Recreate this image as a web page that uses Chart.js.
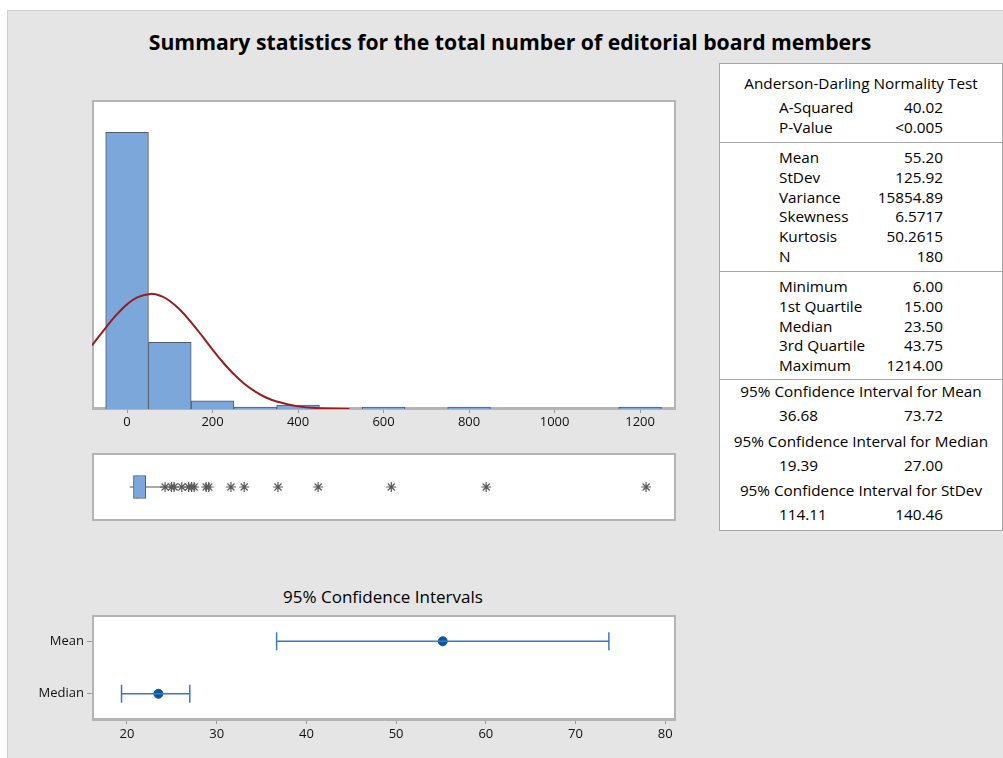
<!DOCTYPE html>
<html>
<head>
<meta charset="utf-8">
<script src="https://cdn.jsdelivr.net/npm/chart.js@4.4.0/dist/chart.umd.min.js"></script>
<style>
  body { margin: 0; background: #fff; font-family: "Open Sans", sans-serif; color: #000; }
  #page { position: absolute; left: 7px; top: 10px; width: 996px; height: 748px; background: #e5e5e5; border-left: 1px solid #cfcfcf; border-top: 1px solid #cfcfcf; }
  canvas { position: absolute; }
  .t { position: absolute; white-space: nowrap; line-height: 20px; }
  #title { font-weight: bold; font-size: 21.2px; left: 0; width: 1020px; text-align: center; top: 27px; line-height: 30px; }
  #ciTitle { font-size: 17px; left: 233px; width: 300px; text-align: center; top: 587px; }
  #stats { position: absolute; left: 719px; top: 63px; width: 282px; height: 466px; background: #fff; border: 1px solid #a6a6a6; }
  .sep { position: absolute; left: 719px; width: 284px; height: 1px; background: #a6a6a6; }
</style>
</head>
<body>
<div id="page"></div>
<div class="t" id="title">Summary statistics for the total number of editorial board members</div>
<canvas id="hist" width="584" height="335" style="left:92px;top:100px"></canvas>
<canvas id="box" width="584" height="68" style="left:92px;top:453px"></canvas>
<div class="t" id="ciTitle">95% Confidence Intervals</div>
<canvas id="ci" width="656" height="132" style="left:20px;top:615px"></canvas>
<div id="stats"></div>
<div id="statText"></div>

<script>
// histogram data (bin width 100)
const binCenters = [0, 100, 200, 300, 400, 500, 600, 700, 800, 900, 1000, 1100, 1200];
const binCounts = [137, 33, 4, 1, 2, 0, 1, 0, 1, 0, 0, 0, 1];
const histTicks = [0, 200, 400, 600, 800, 1000, 1200];

// fitted normal curve
const curveX = [-82, -50, -25, 0, 25, 55, 80, 100, 125, 150, 175, 200, 225, 250, 275, 300, 325, 350, 400, 450, 520];
const curveY = [31.5, 40.2, 46.6, 51.8, 55.4, 57.0, 55.9, 53.5, 48.9, 42.9, 36.3, 29.4, 22.9, 17.2, 12.4, 8.6, 5.7, 3.7, 1.3, 0.4, 0.05];

// boxplot
const boxMin = 6, boxQ1 = 15, boxMedian = 23.5, boxQ3 = 43.75, whiskerHigh = 85;
const outliers = [89, 104, 110, 128, 144, 151, 157, 185, 191, 243, 274, 353, 447, 618, 840, 1214];

// confidence intervals
const ciLabels = ["Mean", "Median"];
const ciEstimate = [55.20, 23.50];
const ciLow = [36.68, 19.39];
const ciHigh = [73.72, 27.00];
const ciTicks = [20, 30, 40, 50, 60, 70, 80];

// stats table
const adLabels = ["A-Squared", "P-Value"];
const adValues = ["40.02", "<0.005"];
const momentLabels = ["Mean", "StDev", "Variance", "Skewness", "Kurtosis", "N"];
const momentValues = ["55.20", "125.92", "15854.89", "6.5717", "50.2615", "180"];
const quantLabels = ["Minimum", "1st Quartile", "Median", "3rd Quartile", "Maximum"];
const quantValues = ["6.00", "15.00", "23.50", "43.75", "1214.00"];
const intervalTitles = ["95% Confidence Interval for Mean", "95% Confidence Interval for Median", "95% Confidence Interval for StDev"];
const intervalLow = ["36.68", "19.39", "114.11"];
const intervalHigh = ["73.72", "27.00", "140.46"];

Chart.defaults.font.family = '"Open Sans", sans-serif';
Chart.defaults.font.size = 13;
Chart.defaults.color = "#111";
Chart.defaults.animation = false;

// white plot panel with grey frame, drawn under the marks
const panel = {
  id: "panel",
  beforeDraw(chart) {
    const a = chart.chartArea, c = chart.ctx;
    c.save();
    c.fillStyle = "#fff";
    c.fillRect(a.left, a.top, a.right - a.left, a.bottom - a.top);
    c.restore();
  },
  beforeDatasetsDraw(chart) {
    const a = chart.chartArea, c = chart.ctx;
    c.save();
    c.strokeStyle = "#b4b4b4";
    c.lineWidth = 2;
    c.strokeRect(a.left + 1, a.top + 1, a.right - a.left - 2, a.bottom - a.top - 2);
    c.restore();
  }
};

const baseOpts = {
  responsive: false,
  layout: { padding: 0, autoPadding: false },
  plugins: { legend: { display: false }, tooltip: { enabled: false } }
};

// histogram
new Chart(document.getElementById("hist"), {
  data: {
    datasets: [
      {
        type: "line",
        data: curveX.map((x, i) => ({ x: x, y: curveY[i] })),
        borderColor: "#9a1c1c",
        borderWidth: 2,
        pointRadius: 0,
        tension: 0.4
      },
      {
        type: "bar",
        data: binCenters.map((x, i) => ({ x: x, y: binCounts[i] || null })),
        backgroundColor: "#7ca7da",
        borderColor: "#4f5b70",
        borderWidth: 1,
        barPercentage: 1,
        categoryPercentage: 1
      }
    ]
  },
  options: Object.assign({}, baseOpts, {
    scales: {
      x: {
        type: "linear", min: -82, max: 1284, offset: false,
        afterBuildTicks: (s) => { s.ticks = histTicks.map(v => ({ value: v })); },
        afterFit: (s) => { s.height = 26; },
        grid: { drawOnChartArea: false, tickLength: 4, color: "#999", offset: false },
        border: { color: "#b4b4b4" },
        ticks: { padding: 1, maxRotation: 0, callback: (v) => String(v) }
      },
      y: { display: false, min: 0, max: 153 }
    }
  }),
  plugins: [panel]
});

// boxplot
new Chart(document.getElementById("box"), {
  data: {
    datasets: [
      {
        type: "line",
        data: [{ x: boxMin, y: 1 }, { x: boxQ1, y: 1 }],
        borderColor: "#555", borderWidth: 1, pointRadius: 0
      },
      {
        type: "line",
        data: [{ x: boxQ3, y: 1 }, { x: whiskerHigh, y: 1 }],
        borderColor: "#555", borderWidth: 1, pointRadius: 0
      },
      {
        type: "bar",
        indexAxis: "y",
        data: [{ x: [boxQ1, boxQ3], y: 1 }],
        backgroundColor: "#7ca7da",
        borderColor: "#4f5b70",
        borderWidth: 1,
        borderSkipped: false,
        barThickness: 23
      },
      {
        type: "line",
        data: [{ x: boxMedian, y: 0.67 }, { x: boxMedian, y: 1.33 }],
        borderColor: "#4f5b70", borderWidth: 1.5, pointRadius: 0
      },
      {
        type: "scatter",
        data: outliers.map(v => ({ x: v, y: 1 })),
        pointStyle: "star",
        pointRadius: 5,
        borderColor: "#5a5a5a",
        borderWidth: 1.2
      }
    ]
  },
  options: Object.assign({}, baseOpts, {
    scales: {
      x: { type: "linear", display: false, min: -82, max: 1284, offset: false },
      y: { type: "linear", display: false, min: 0, max: 2, offset: false }
    }
  }),
  plugins: [panel]
});

// confidence interval plot
const ciSets = ciLabels.map((lab, i) => ({
  type: "line",
  data: [{ x: ciLow[i], y: lab }, { x: ciHigh[i], y: lab }],
  borderColor: "#3a78c0",
  borderWidth: 1.5,
  pointStyle: "line",
  rotation: 90,
  pointRadius: 9,
  pointBorderColor: "#3a78c0",
  pointBorderWidth: 1.5
}));
ciSets.push({
  type: "scatter",
  data: ciLabels.map((lab, i) => ({ x: ciEstimate[i], y: lab })),
  pointRadius: 4.5,
  backgroundColor: "#0b56a3",
  borderColor: "#0b56a3"
});

new Chart(document.getElementById("ci"), {
  type: "line",
  data: { labels: ciLabels, datasets: ciSets },
  options: Object.assign({}, baseOpts, {
    scales: {
      x: {
        type: "linear", min: 16.1, max: 81.2,
        afterBuildTicks: (s) => { s.ticks = ciTicks.map(v => ({ value: v })); },
        afterFit: (s) => { s.height = 27; },
        grid: { drawOnChartArea: false, tickLength: 4, color: "#999" },
        border: { color: "#b4b4b4" },
        ticks: { padding: 2, maxRotation: 0 }
      },
      y: {
        type: "category", labels: ciLabels, offset: true,
        afterFit: (s) => { s.width = 72; s.paddingTop = 0; s.paddingBottom = 0; },
        grid: { drawOnChartArea: false, tickLength: 5, color: "#999" },
        border: { color: "#b4b4b4" },
        ticks: { padding: 3 }
      }
    }
  }),
  plugins: [panel]
});

// stats text
const out = document.getElementById("statText");
function txt(s, x, y, align) {
  const d = document.createElement("div");
  d.className = "t";
  d.textContent = s;
  d.style.fontSize = "15.3px";
  d.style.top = (y - 10) + "px";
  if (align === "right") { d.style.left = (x - 200) + "px"; d.style.width = "200px"; d.style.textAlign = "right"; }
  else if (align === "center") { d.style.left = (x - 150) + "px"; d.style.width = "300px"; d.style.textAlign = "center"; }
  else d.style.left = x + "px";
  out.appendChild(d);
}
function sep(y) {
  const d = document.createElement("div");
  d.className = "sep";
  d.style.top = y + "px";
  out.appendChild(d);
}
const labX = 779, valX = 943, midX = 861;
txt("Anderson-Darling Normality Test", midX, 83, "center");
adLabels.forEach((l, i) => { txt(l, labX, 107 + i * 20, "left"); txt(adValues[i], valX, 107 + i * 20, "right"); });
sep(142);
momentLabels.forEach((l, i) => { txt(l, labX, 157 + i * 19.8, "left"); txt(momentValues[i], valX, 157 + i * 19.8, "right"); });
sep(271);
quantLabels.forEach((l, i) => { txt(l, labX, 286 + i * 19.8, "left"); txt(quantValues[i], valX, 286 + i * 19.8, "right"); });
sep(379);
intervalTitles.forEach((t, i) => {
  const y = 391 + i * 49.5;
  txt(t, midX, y, "center");
  txt(intervalLow[i], labX, y + 24, "left");
  txt(intervalHigh[i], valX, y + 24, "right");
});
</script>
</body>
</html>
